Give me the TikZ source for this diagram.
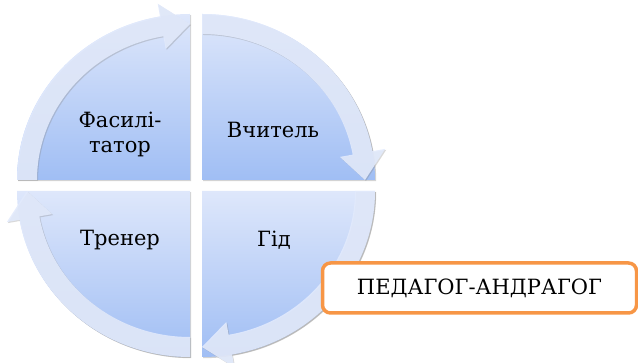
\documentclass[tikz,border=0pt]{standalone}
\usepackage{fontspec}
\setmainfont{DejaVu Serif}
\usetikzlibrary{calc,shadows}

\definecolor{quadtop}{RGB}{222,231,251}
\definecolor{quadbot}{RGB}{160,190,244}
\definecolor{ringblue}{RGB}{226,234,252}
\definecolor{boxorange}{RGB}{247,150,70}

\begin{document}
\begin{tikzpicture}[x=1pt,y=1pt,
	quad/.style={top color=quadtop,bottom color=quadbot,
		drop shadow={shadow xshift=1.2pt,shadow yshift=-1.2pt,opacity=.35}},
	ringarrow/.style={fill=ringblue,fill opacity=.9,
		drop shadow={shadow xshift=1pt,shadow yshift=-1pt,opacity=.3}},
	quadtext/.style={font=\fontsize{21}{25}\selectfont,align=center}]
	\useasboundingbox (0,0) rectangle (638,363);

	\coordinate (tl) at (190,183);
	\coordinate (tr) at (202,183);
	\coordinate (bl) at (190,172);
	\coordinate (br) at (202,172);

	% quadrants
	\path[quad] (tl) -- ++(-173,0) arc[start angle=180,end angle=90,x radius=173pt,y radius=166pt] -- cycle;
	\path[quad] (tr) -- ++(0,166) arc[start angle=90,end angle=0,x radius=173pt,y radius=166pt] -- cycle;
	\path[quad] (br) -- ++(173,0) arc[start angle=0,end angle=-90,x radius=173pt,y radius=166pt] -- cycle;
	\path[quad] (bl) -- ++(0,-166) arc[start angle=270,end angle=180,x radius=173pt,y radius=166pt] -- cycle;

	% ring arrows
	\fill[ringarrow] ($(tl)+(180:173pt and 166pt)$) arc[start angle=180,end angle=100,x radius=173pt,y radius=166pt]
		-- ($(tl)+(100:186pt and 179pt)$) -- ($(tl)+(90:163pt and 156pt)$) -- ($(tl)+(100:140pt and 133pt)$)
		-- ($(tl)+(100:153pt and 146pt)$) arc[start angle=100,end angle=180,x radius=153pt,y radius=146pt] -- cycle;
	\fill[ringarrow] ($(tr)+(90:173pt and 166pt)$) arc[start angle=90,end angle=10,x radius=173pt,y radius=166pt]
		-- ($(tr)+(10:186pt and 179pt)$) -- ($(tr)+(0:163pt and 156pt)$) -- ($(tr)+(10:140pt and 133pt)$)
		-- ($(tr)+(10:153pt and 146pt)$) arc[start angle=10,end angle=90,x radius=153pt,y radius=146pt] -- cycle;
	\fill[ringarrow] ($(br)+(0:173pt and 166pt)$) arc[start angle=0,end angle=-80,x radius=173pt,y radius=166pt]
		-- ($(br)+(-80:186pt and 179pt)$) -- ($(br)+(-90:163pt and 156pt)$) -- ($(br)+(-80:140pt and 133pt)$)
		-- ($(br)+(-80:153pt and 146pt)$) arc[start angle=-80,end angle=0,x radius=153pt,y radius=146pt] -- cycle;
	\fill[ringarrow] ($(bl)+(270:173pt and 166pt)$) arc[start angle=270,end angle=190,x radius=173pt,y radius=166pt]
		-- ($(bl)+(190:186pt and 179pt)$) -- ($(bl)+(180:163pt and 156pt)$) -- ($(bl)+(190:140pt and 133pt)$)
		-- ($(bl)+(190:153pt and 146pt)$) arc[start angle=190,end angle=270,x radius=153pt,y radius=146pt] -- cycle;

	% labels
	\node[quadtext] (fas) at (120,229) {Фасилі-\\татор};
	\node[quadtext] (vch) at (273,233) {Вчитель};
	\node[quadtext] (tren) at (120,123) {Тренер};
	\node[quadtext] (gid) at (274,123) {Гід};

	\node[draw=boxorange,line width=3.5pt,rounded corners=8pt,fill=white,
		minimum width=314pt,minimum height=50pt,font=\fontsize{21}{24}\selectfont]
		(ped) at (479.5,75) {ПЕДАГОГ-АНДРАГОГ};
\end{tikzpicture}
\end{document}
